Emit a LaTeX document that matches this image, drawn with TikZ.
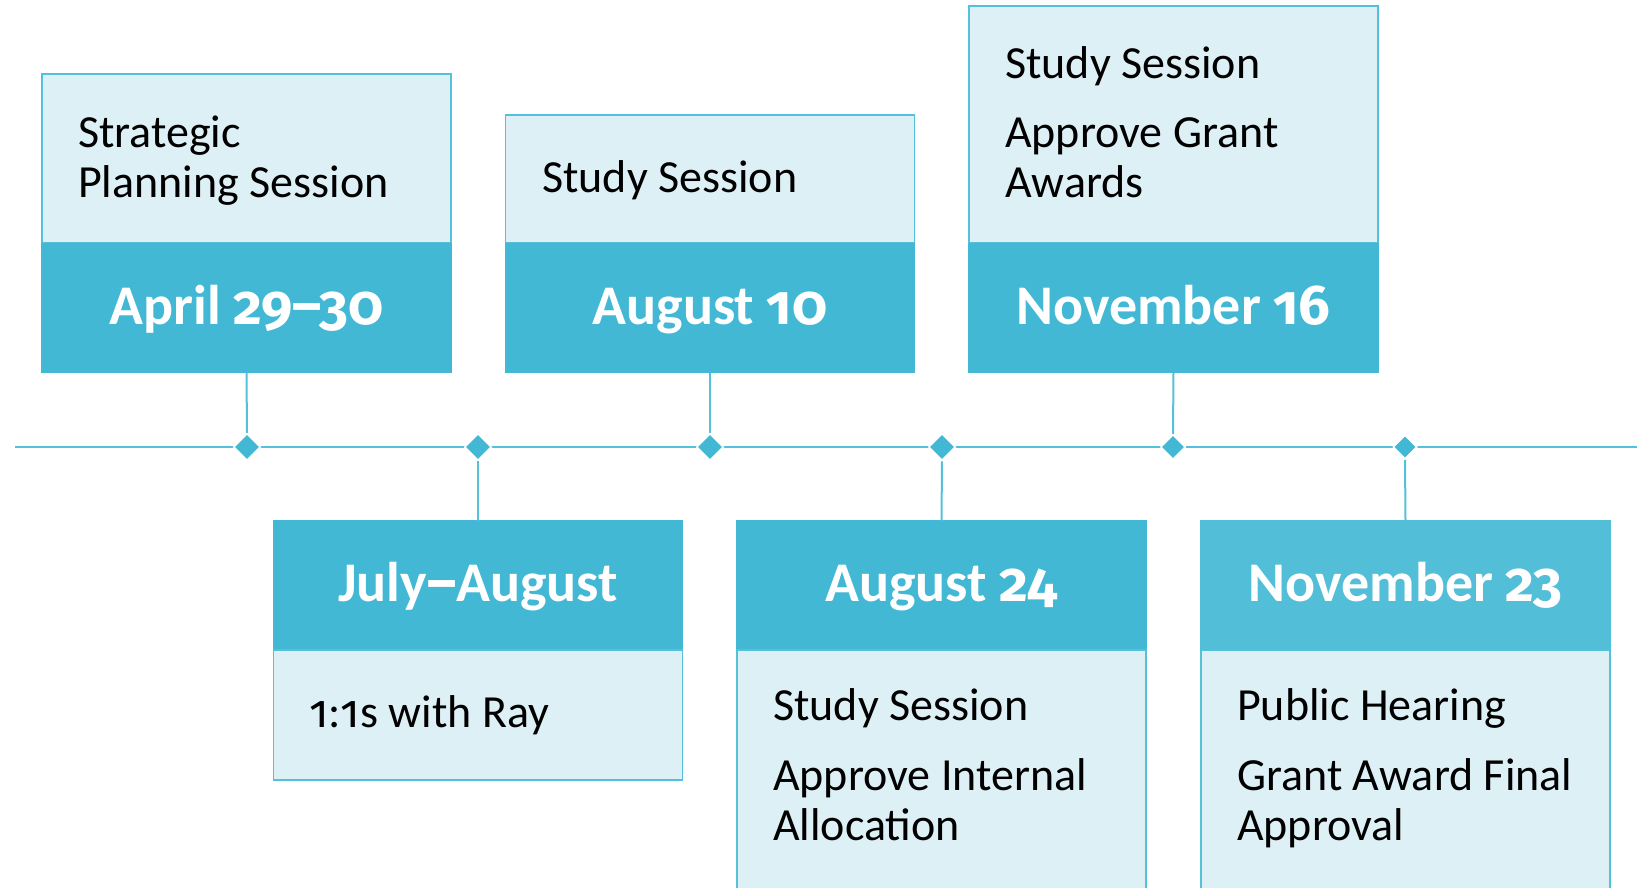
\documentclass[tikz,border=0pt]{standalone}
\usepackage{fontspec}
\setmainfont{Carlito}
\newfontfamily\osf[Numbers=OldStyle]{Fira Sans}
\usetikzlibrary{shapes.geometric}
\definecolor{hdr}{HTML}{42B8D4}
\definecolor{hdrlite}{HTML}{52BED7}
\definecolor{palefill}{HTML}{DDF0F6}
\definecolor{edgecol}{HTML}{55C0DA}
\begin{document}
\begin{tikzpicture}[x=1pt,y=-1pt,
  palebox/.style={draw=edgecol, line width=1.6pt, fill=palefill, minimum width=409pt, inner sep=0pt, outer sep=0pt},
  hdrbox/.style={fill=hdr, draw=hdr, line width=1.6pt, minimum width=409pt, minimum height=129pt, inner sep=0pt, outer sep=0pt,
     text=white, font=\fontsize{56}{60}\selectfont\bfseries, text height=41pt, text depth=9pt},
  body/.style={anchor=base west, align=left, inner sep=0pt, font=\fontsize{46}{50}\selectfont},
  gem/.style={diamond, fill=hdr, draw=white, line width=1.5pt, inner sep=0pt, minimum size=27pt},
  link/.style={draw=edgecol, line width=2pt}]
\clip (0,0) rectangle (1644,887);
\fill[white] (0,0) rectangle (1644,887);

% timeline
\coordinate (tl0) at (15,447);
\coordinate (tl1) at (1637,447);
\draw[link] (tl0) -- (tl1);

% top boxes
\node[palebox, minimum height=169pt] (p1) at (246.5,158.5) {};
\node[hdrbox] (h1) at (246.5,308) {April {\osf 29–30}};
\node[palebox, minimum height=128pt] (p2) at (710,179) {};
\node[hdrbox] (h2) at (710,308) {August {\osf 10}};
\node[palebox, minimum height=237pt] (p3) at (1173.5,124.5) {};
\node[hdrbox] (h3) at (1173.5,308) {November {\osf 16}};

% body texts: anchor is the baseline of the last line
\node[body] (t1) at (78,197) {Strategic\\Planning Session};
\node[body] (t2) at (542,192) {Study Session};
\node[body] (t3) at (1005,197) {Study Session\\[19pt]Approve Grant\\Awards};

% bottom boxes
\node[hdrbox] (h4) at (478,585.5) {July{\osf –}August};
\node[palebox, minimum height=130pt] (p4) at (478,715) {};
\node[hdrbox] (h5) at (941.5,585.5) {August {\osf 24}};
\node[palebox, minimum height=250pt] (p5) at (941.5,775) {};
\node[hdrbox, fill=hdrlite, draw=hdrlite] (h6) at (1405.5,585.5) {November {\osf 23}};
\node[palebox, minimum height=250pt] (p6) at (1405.5,775) {};

\node[body] (t4) at (309,727) {{\osf 1}:{\osf 1}s with Ray};
\node[body] (t5) at (773,840) {Study Session\\[20pt]Approve Internal\\Allocation};
\node[body] (t6) at (1237,840) {Public Hearing\\[20pt]Grant Award Final\\Approval};

% connectors and markers
\node[gem] (d1) at (247,447) {};
\node[gem] (d2) at (478,447) {};
\node[gem] (d3) at (710,447) {};
\node[gem] (d4) at (942,447) {};
\node[gem, minimum size=25pt] (d5) at (1173,447) {};
\node[gem, minimum size=24pt] (d6) at (1405,447) {};

\draw[link] (h1.south) -- (d1.north);
\draw[link] (d2.south) -- (h4.north);
\draw[link] (h2.south) -- (d3.north);
\draw[link] (d4.south) -- (h5.north);
\draw[link] (h3.south) -- (d5.north);
\draw[link] (d6.south) -- (h6.north);
\end{tikzpicture}
\end{document}
